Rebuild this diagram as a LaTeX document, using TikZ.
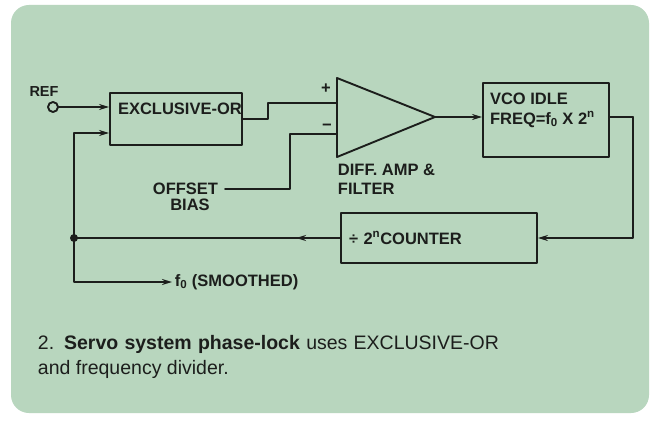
\documentclass[tikz,border=0pt]{standalone}
\usepackage{fontspec}
\setmainfont{Liberation Sans}
\usetikzlibrary{positioning,calc,arrows.meta,decorations.markings}
\definecolor{bggreen}{RGB}{184,214,190}
\definecolor{ink}{RGB}{28,30,28}
\begin{document}
\begin{tikzpicture}[x=1pt,y=-1pt,line join=round,line cap=round,
	draw=ink,text=ink,line width=1.9pt,
	>={Stealth[length=10pt,width=6pt]},
	lbl/.style={font=\fontsize{16.5}{19.5}\selectfont\bfseries,inner sep=0pt},
	blk/.style={draw,rectangle,inner sep=0pt},
	midarrow/.style={postaction={decorate},decoration={markings,
		mark=at position #1 with {\arrow{Stealth[length=10pt,width=6pt]}}}}]
	% page and card
	\fill[white] (0,0) rectangle (655,422);
	\useasboundingbox (0,0) rectangle (655,422);
	\fill[bggreen,rounded corners=18pt] (11,5) rectangle (649,413);
	
	% blocks
	\node[blk,minimum width=132pt,minimum height=52pt] (xor) at (176,119) {};
	\node[lbl,below right=10pt and 8pt of xor.north west] (xortxt) {EXCLUSIVE-OR};
	
	\node[blk,minimum width=126pt,minimum height=74pt] (vco) at (546,120) {};
	\node[lbl,align=left,below right=10pt and 7pt of vco.north west] (vcotxt)
	{VCO IDLE\\FREQ=f\textsubscript{0} X 2\textsuperscript{n}};
	
	\node[blk,minimum width=196pt,minimum height=50pt,text width=180pt,
	align=left,inner xsep=8pt,font=\fontsize{16.5}{19.5}\selectfont\bfseries] (cnt) at (439,238)
	{÷ 2\textsuperscript{n}COUNTER};
	
	% amplifier
	\path
	(337,78) coordinate (ampt)
	(337,157) coordinate (ampb)
	(435,117) coordinate (ampo)
	(337,103) coordinate (ampp)
	(337,134) coordinate (ampm);
	\draw (ampt) -- (ampo) -- (ampb) -- cycle;
	\node[lbl] (plus) at (326,89) {+};
	\node[lbl] (minus) at (327,127) {−};
	\node[lbl,align=left,anchor=north west] (amptxt) at (337,163) {DIFF. AMP \&\\FILTER};
	
	% input and offset
	\node[draw,circle,minimum size=10pt,inner sep=0pt,fill=bggreen] (ref) at (53,107) {};
	\node[lbl,font=\fontsize{14.5}{17}\selectfont\bfseries] (reftxt) at (44,92) {REF};
	\node[lbl,anchor=east] (offset) at (219,189) {OFFSET};
	\node[lbl] (bias) at (190,205) {BIAS};
	
	\path
	(74,238) coordinate (jn)
	(268,103) coordinate (jog)
	(290,134) coordinate (bend)
	(633,117) coordinate (turn)
	(172,282) coordinate (ftip);
	\node[lbl,anchor=west] (smooth) at ($(ftip)+(2,0)$) {f\textsubscript{0} (SMOOTHED)};
	
	% connectors
	\draw[->] (ref) -- (ref -| xor.west);
	\draw[->] (jn) |- ($(xor.west)+(0,14)$);
	\draw (xor.east) -| (jog) -- (ampp);
	\draw (offset.east) ++(6,0) -| (bend) -- (ampm);
	\draw[->] (ampo) -- (ampo -| vco.west);
	\draw ($(vco.east)+(0,-3)$) -- (turn);
	\draw[->] (turn) |- (cnt.east);
	\draw[midarrow=44pt] (cnt.west) -- (jn);
	\fill[ink] (jn) circle (4pt);
	\draw[->] (jn) |- (ftip);
	
	% caption
	\node[anchor=base west,inner sep=0pt,font=\fontsize{19.5}{24}\selectfont] (cap1) at (37,349)
	{\makebox[461pt][s]{2. \textbf{Servo system phase-lock} uses EXCLUSIVE-OR}};
	\node[anchor=base west,inner sep=0pt,font=\fontsize{19.5}{24}\selectfont] (cap2) at (37,374)
	{and frequency divider.};
\end{tikzpicture}
\end{document}
